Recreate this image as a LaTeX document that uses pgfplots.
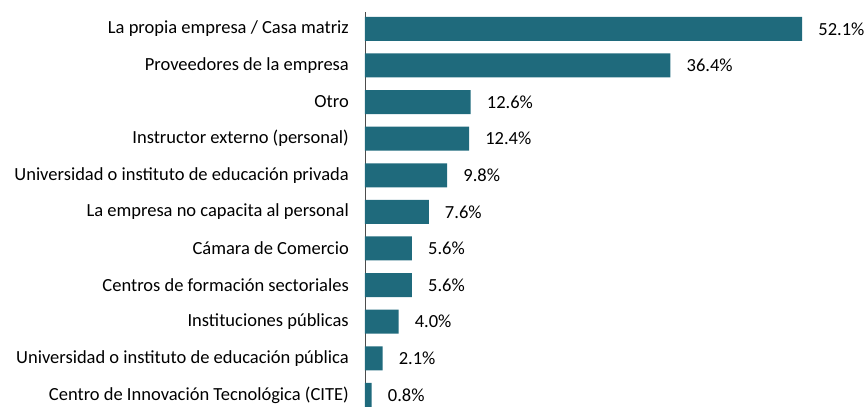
\documentclass[border=0pt]{standalone}
\usepackage{pgfplots}
\pgfplotsset{compat=1.18}
\usepackage{fontspec}
\setmainfont{Carlito}
\definecolor{barcol}{HTML}{1F6A7C}
\begin{document}
\begin{tikzpicture}[font=\fontsize{18.5}{22}\selectfont]
\begin{axis}[
  scale only axis,
  width=475pt, height=395pt,
  xbar, bar width=24pt,
  xmin=0, xmax=56.6,
  ymin=-0.46, ymax=10.33,
  y dir=reverse,
  hide x axis,
  axis y line*=left,
  y axis line style={-, color=black!70, line width=0.8pt},
  ytick={0,...,10},
  yticklabels={La propia empresa / Casa matriz,Proveedores de la empresa,Otro,Instructor externo (personal),Universidad o instituto de educación privada,La empresa no capacita al personal,Cámara de Comercio,Centros de formación sectoriales,Instituciones públicas,Universidad o instituto de educación pública,Centro de Innovación Tecnológica (CITE)},
  major tick length=0pt,
  yticklabel style={anchor=east, xshift=-16pt, inner sep=0pt},
  /pgf/number format/assume math mode=true,
  nodes near coords={\pgfmathprintnumber[fixed,fixed zerofill,precision=1,assume math mode=true]{\pgfplotspointmeta}\%},
  nodes near coords style={anchor=west, xshift=16pt, inner sep=0pt, black},
  point meta=x,
]
\addplot[fill=barcol, draw=none] coordinates {
(52.1,0) (36.4,1) (12.6,2) (12.4,3) (9.8,4) (7.6,5) (5.6,6) (5.6,7) (4.0,8) (2.1,9) (0.8,10)};
\end{axis}
\pgfresetboundingbox
\path (-365pt,0) rectangle (499pt,407pt);
\end{tikzpicture}
\end{document}
